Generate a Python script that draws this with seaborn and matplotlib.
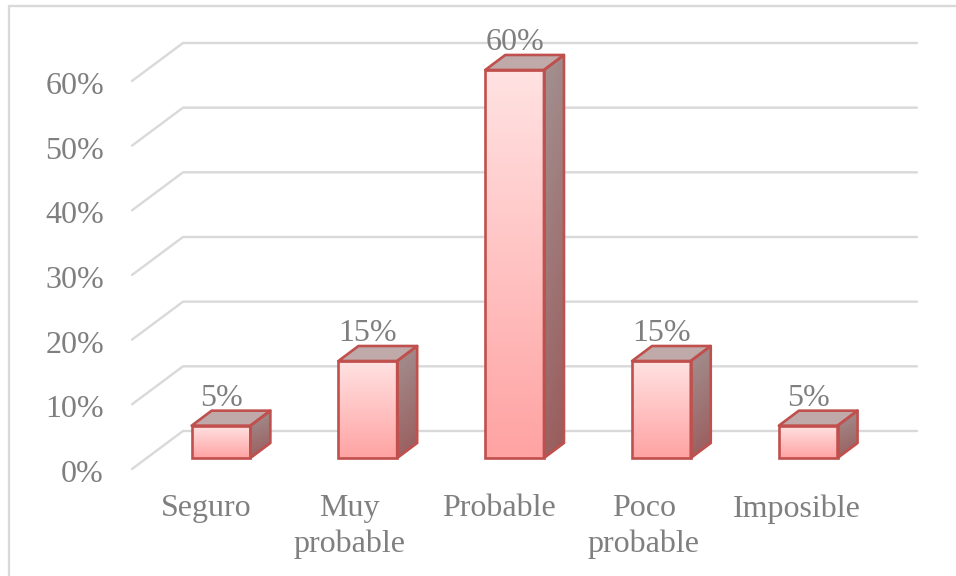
import numpy as np
import matplotlib
matplotlib.use("Agg")
import matplotlib.pyplot as plt
from matplotlib.lines import Line2D
from matplotlib.patches import Polygon
from matplotlib.colors import LinearSegmentedColormap
from matplotlib.transforms import Affine2D
import pandas as pd
import seaborn as sns

categories = ["Seguro", "Muy\nprobable", "Probable", "Poco\nprobable", "Imposible"]
shares = [5, 15, 60, 15, 5]
tick_values = [0, 10, 20, 30, 40, 50, 60]
tick_labels = ["0%", "10%", "20%", "30%", "40%", "50%", "60%"]

W, H = 956, 576
sns.set_theme(style="white")
plt.rcParams["font.family"] = ["Liberation Serif", "DejaVu Serif"]

fig = plt.figure(figsize=(W / 100, H / 100), dpi=100, facecolor="white")
# The axes is the plane of the bars' front faces
left, right, base, top = 147.6, 881.6, 458.0, 18.0
ax = fig.add_axes([left / W, 1 - base / H, (right - left) / W, (base - top) / H])
ax.set_facecolor("none")

EDGE = "#C0504D"
EDGE_LW = 1.9

df = pd.DataFrame({"categoria": categories, "porcentaje": shares})
sns.barplot(data=df, x="categoria", y="porcentaje", color="#FFC0C0",
            edgecolor=EDGE, linewidth=EDGE_LW, width=0.4, saturation=1, ax=ax)

ax.set_xlim(-0.5, 4.5)
ax.set_ylim(0, (base - top) / 6.467)
px_x = (right - left) / 5
px_y = 6.467


def dx(px):
    return px / px_x


def dy(px):
    return px / px_y


TEXT = "#7F7F7F"
GRID = "#D9D9D9"
FS = 23

# Back wall gridlines with the slanted floor and wall returns
for v in tick_values:
    xs = [-0.5 + dx(-15.6), -0.5 + dx(35.4), 4.5 + dx(35.4)]
    ys = [v + dy(-11), v + dy(27), v + dy(27)]
    ax.plot(xs, ys, color=GRID, lw=1.7, clip_on=False, zorder=1,
            solid_joinstyle="miter")

front_map = LinearSegmentedColormap.from_list("front", ["#FFA3A3", "#FFE2E2"])
side_map = LinearSegmentedColormap.from_list("side", ["#9A5A5A", "#A39292"])
ramp = np.linspace(0, 1, 128).reshape(-1, 1)
depth_x, depth_y = dx(20), dy(15)

for bar in list(ax.patches):
    x0, w, h = bar.get_x(), bar.get_width(), bar.get_height()
    x1 = x0 + w
    bar.set_facecolor("none")
    bar.set_zorder(6)
    bar.set_clip_on(False)

    ax.imshow(ramp, extent=[x0, x1, 0, h], origin="lower", aspect="auto",
              cmap=front_map, zorder=3, clip_on=False)

    top_face = Polygon([(x0, h), (x1, h), (x1 + depth_x, h + depth_y), (x0 + depth_x, h + depth_y)],
                       closed=True, facecolor="#BFA9A9", edgecolor=EDGE, lw=EDGE_LW,
                       zorder=5, clip_on=False, joinstyle="round")
    ax.add_patch(top_face)

    side_pts = [(x1, 0), (x1 + depth_x, depth_y), (x1 + depth_x, h + depth_y), (x1, h)]
    outline = Polygon(side_pts, closed=True, facecolor="none", edgecolor=EDGE, lw=EDGE_LW,
                      zorder=5, clip_on=False, joinstyle="round")
    ax.add_patch(outline)
    # Diagonal shading across the side face
    u = np.linspace(0, 1, 40)
    v = np.linspace(0, 1, 128)
    uu, vv = np.meshgrid(u, v)
    shade = np.clip(vv * 0.85 + (1 - uu) * 0.15, 0, 1)
    side = ax.imshow(shade, extent=[x1, x1 + depth_x, 0, h + depth_y], origin="lower",
                     aspect="auto", cmap=side_map, vmin=0, vmax=1, zorder=4)
    side.set_clip_path(Polygon(side_pts, closed=True, transform=ax.transData))

ax.set_xlim(-0.5, 4.5)
ax.set_ylim(0, (base - top) / px_y)

for spine in ax.spines.values():
    spine.set_visible(False)
ax.set_xlabel("")
ax.set_ylabel("")
ax.tick_params(length=0)

ax.set_yticks(tick_values)
ax.set_yticklabels(tick_labels, fontsize=FS, color=TEXT)
ax.tick_params(axis="y", pad=(left - 104) * 0.72)
for lab in ax.get_yticklabels():
    lab.set_transform(lab.get_transform() + Affine2D().translate(0, -13))

ax.set_xticks(range(len(categories)))
ax.set_xticklabels(categories, fontsize=FS, color=TEXT, linespacing=1.3)
ax.tick_params(axis="x", pad=26)
# Category labels sit on the floor's front edge; each is nudged to fit its slot
label_nudge = [1, -3, 0, -2, 4]
for lab, nudge in zip(ax.get_xticklabels(), label_nudge):
    lab.set_transform(lab.get_transform() + Affine2D().translate(-15.6 + nudge, 0))

# Value labels above each bar
for i, v in enumerate(shares):
    ax.annotate(f"{v}%", (i, v), xytext=(0, 27 * 0.72), textcoords="offset points",
                ha="center", va="center", fontsize=FS, color=TEXT, zorder=8,
                annotation_clip=False)

# Chart frame: only its top and left edges fall inside the canvas
fig.add_artist(Line2D([8.5 / W, 8.5 / W, 1.0], [0, 1 - 6 / H, 1 - 6 / H],
                      color=GRID, lw=1.7, transform=fig.transFigure))

fig.savefig("out.png", dpi=100, facecolor="white")
